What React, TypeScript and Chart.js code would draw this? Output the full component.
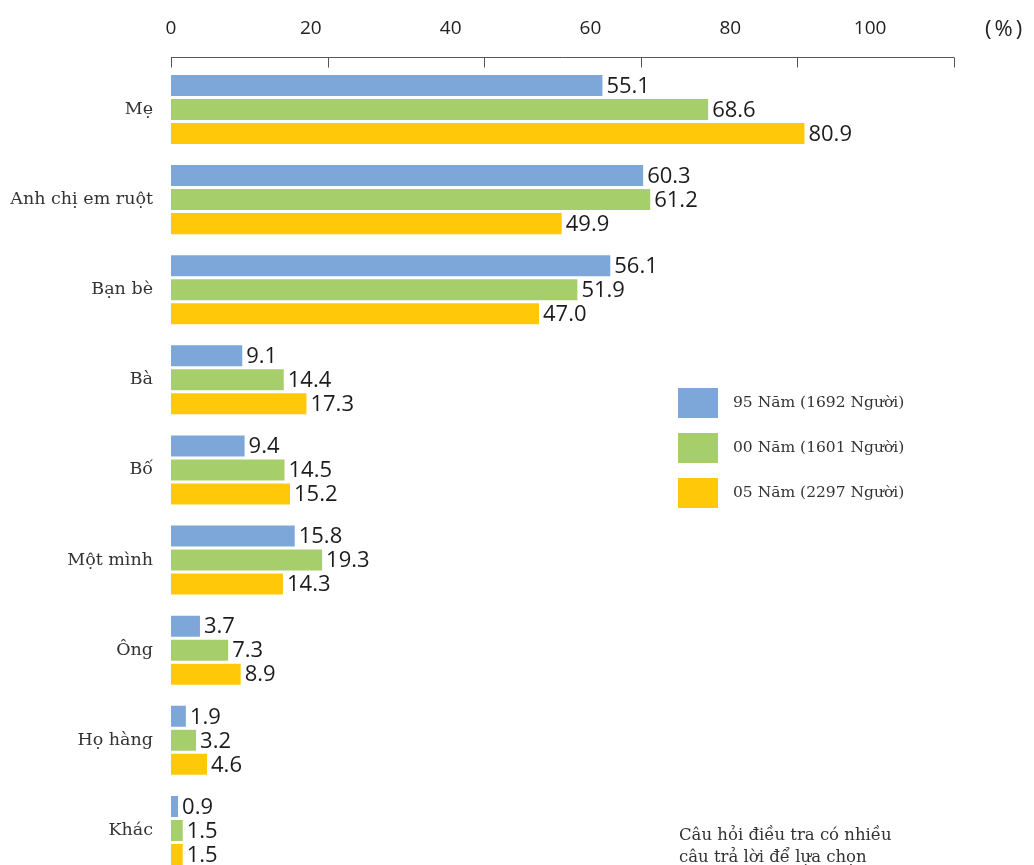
import React, { useEffect, useRef } from "react";
import { Chart, registerables } from "chart.js";

Chart.register(...registerables);

const categories = ["Mẹ", "Anh chị em ruột", "Bạn bè", "Bà", "Bố", "Một mình", "Ông", "Họ hàng", "Khác"];
const series95 = [55.1, 60.3, 56.1, 9.1, 9.4, 15.8, 3.7, 1.9, 0.9];
const series00 = [68.6, 61.2, 51.9, 14.4, 14.5, 19.3, 7.3, 3.2, 1.5];
const series05 = [80.9, 49.9, 47.0, 17.3, 15.2, 14.3, 8.9, 4.6, 1.5];
const seriesLabels = ["95 Năm (1692 Người)", "00 Năm (1601 Người)", "05 Năm (2297 Người)"];
const seriesColors = ["#7ea7d9", "#a6cf6c", "#ffc90a"];
const tickValues = [0, 20, 40, 60, 80, 100];
const unitLabel = "(%)";
const noteLines = ["Câu hỏi điều tra có nhiều", "câu trả lời để lựa chọn"];

const SANS = "'Open Sans', 'DejaVu Sans', sans-serif";
const SERIF = "'DejaVu Serif', serif";

const topAxisPlugin = {
  id: "topAxisLine",
  afterDraw(chart: any) {
    const { ctx, chartArea } = chart;
    const xs = chart.scales.x;
    const y = Math.round(chartArea.top - 7.5) + 0.5;
    ctx.save();
    ctx.strokeStyle = "#555";
    ctx.lineWidth = 1;
    ctx.beginPath();
    ctx.moveTo(xs.getPixelForValue(tickValues[0]), y);
    ctx.lineTo(xs.getPixelForValue(tickValues[tickValues.length - 1]), y);
    tickValues.forEach((v) => {
      const px = Math.round(xs.getPixelForValue(v)) + 0.5;
      ctx.moveTo(px, y);
      ctx.lineTo(px, y + 10);
    });
    ctx.stroke();
    ctx.fillStyle = "#222";
    ctx.font = `22px ${SANS}`;
    (ctx as any).letterSpacing = "3px";
    ctx.textAlign = "left";
    ctx.textBaseline = "middle";
    ctx.fillText(unitLabel, chartArea.right + 31, chartArea.top - 35);
    ctx.restore();
  },
};

const valueLabelPlugin = {
  id: "valueLabels",
  afterDatasetsDraw(chart: any) {
    const { ctx } = chart;
    ctx.save();
    ctx.font = `22px ${SANS}`;
    ctx.fillStyle = "#1c1c1c";
    ctx.textAlign = "left";
    ctx.textBaseline = "middle";
    chart.data.datasets.forEach((ds: any, i: number) => {
      const meta = chart.getDatasetMeta(i);
      meta.data.forEach((bar: any, j: number) => {
        ctx.fillText(Number(ds.data[j]).toFixed(1), bar.x + 4, bar.y + 1);
      });
    });
    ctx.restore();
  },
};

const legendPlugin = {
  id: "customLegend",
  afterDraw(chart: any) {
    const { ctx } = chart;
    ctx.save();
    const left = 678;
    const top0 = 388;
    chart.data.datasets.forEach((ds: any, i: number) => {
      const top = top0 + i * 45;
      ctx.fillStyle = ds.backgroundColor;
      ctx.fillRect(left, top, 40, 30);
      ctx.fillStyle = "#333";
      ctx.font = `15.5px ${SERIF}`;
      ctx.textAlign = "left";
      ctx.textBaseline = "middle";
      ctx.fillText(ds.label, left + 55, top + 15);
    });
    ctx.font = `16.5px ${SERIF}`;
    ctx.textBaseline = "alphabetic";
    noteLines.forEach((line, k) => {
      ctx.fillText(line, left + 1, 840 + k * 22);
    });
    ctx.restore();
  },
};

export default function App() {
  const canvasRef = useRef<HTMLCanvasElement | null>(null);

  useEffect(() => {
    if (!canvasRef.current) return;
    const chart = new Chart(canvasRef.current, {
      type: "bar",
      data: {
        labels: categories,
        datasets: [
          { label: seriesLabels[0], data: series95, backgroundColor: seriesColors[0] },
          { label: seriesLabels[1], data: series00, backgroundColor: seriesColors[1] },
          { label: seriesLabels[2], data: series05, backgroundColor: seriesColors[2] },
        ].map((d) => ({
          ...d,
          xAxisID: "x",
          yAxisID: "y",
          borderWidth: 0,
          categoryPercentage: 0.8,
          barPercentage: 0.875,
        })),
      },
      options: {
        indexAxis: "y",
        animation: false,
        responsive: false,
        maintainAspectRatio: false,
        layout: { padding: { top: 0, right: 80, bottom: 4.5, left: 0 } },
        plugins: {
          legend: { display: false },
          tooltip: { enabled: false },
          title: { display: false },
        },
        scales: {
          x: {
            type: "linear",
            position: "top",
            min: 0,
            max: 100,
            display: false,
          },
          x2: {
            type: "linear",
            axis: "x",
            position: "top",
            min: 0,
            max: 112,
            grid: { display: false, drawTicks: false },
            border: { display: false },
            afterBuildTicks: (s: any) => {
              s.ticks = tickValues.map((v) => ({ value: v }));
            },
            afterFit: (s: any) => {
              s.height = 64.4;
            },
            ticks: {
              padding: 24.5,
              color: "#222",
              font: { family: SANS, size: 19 },
              callback: (v: any) => String(v),
            },
          },
          y: {
            type: "category",
            position: "left",
            grid: { display: false, drawTicks: false },
            border: { display: false },
            ticks: {
              padding: 18,
              color: "#333",
              font: { family: SERIF, size: 17.5 },
            },
            afterFit: (s: any) => {
              s.width = 171;
              s.paddingTop = 0;
              s.paddingBottom = 0;
            },
          },
        },
      } as any,
      plugins: [topAxisPlugin, valueLabelPlugin, legendPlugin],
    });
    return () => chart.destroy();
  }, []);

  return (
    <div style={{ position: "absolute", left: 0, top: 0, width: 1034, height: 865, overflow: "hidden", background: "#fff" }}>
      <canvas ref={canvasRef} width={1034} height={880} style={{ display: "block" }} />
    </div>
  );
}
